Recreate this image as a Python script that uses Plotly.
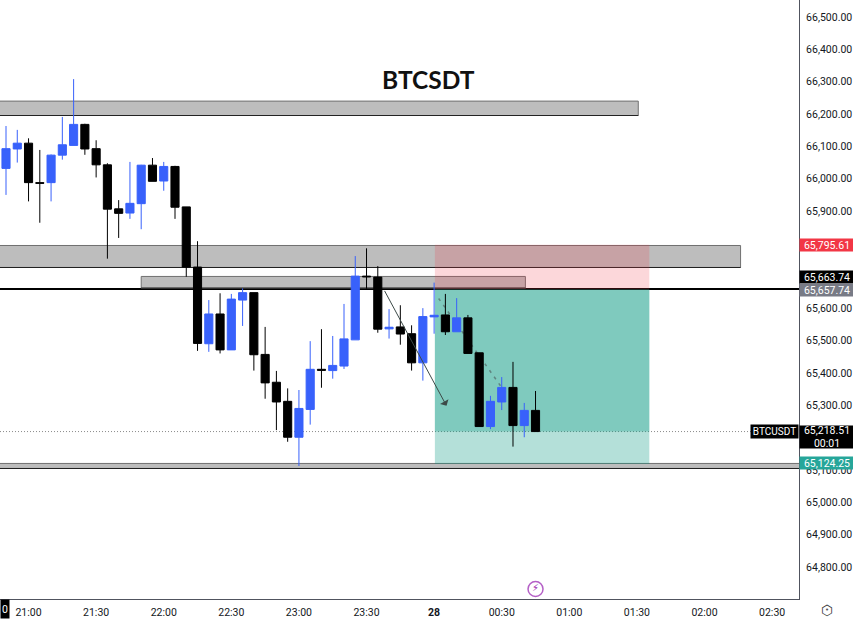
import pandas as pd
import plotly.graph_objects as go

first_bar = "2024-06-27 20:50"
bar_open = [66032, 66092, 66110, 65988, 65988, 66073, 66103, 66168, 66093, 66043, 65907, 65894,
            65923, 66042, 65993, 66038, 65913, 65727, 65490, 65582, 65471, 65625, 65648, 65457,
            65371, 65312, 65201, 65287, 65411, 65407, 65421, 65502, 65699, 65696, 65536, 65542,
            65521, 65431, 65573, 65579, 65527, 65570, 65462, 65234, 65310, 65355, 65237, 65284]
bar_high = [66163, 66151, 66125, 66089, 66075, 66191, 66308, 66170, 66119, 66048, 65934, 66052,
            66043, 66064, 66052, 66040, 65913, 65807, 65625, 65646, 65644, 65661, 65648, 65542,
            65406, 65352, 65347, 65498, 65535, 65514, 65613, 65761, 65785, 65730, 65597, 65609,
            65547, 65600, 65679, 65644, 65631, 65579, 65462, 65329, 65387, 65434, 65307, 65344]
bar_low = [65950, 66050, 65930, 65864, 65930, 66059, 66103, 66074, 66004, 65753, 65817, 65876,
           65844, 65992, 65963, 65876, 65697, 65468, 65465, 65460, 65471, 65545, 65407, 65320,
           65223, 65187, 65112, 65240, 65354, 65382, 65412, 65502, 65660, 65524, 65506, 65487,
           65407, 65376, 65521, 65517, 65527, 65460, 65234, 65226, 65285, 65172, 65201, 65218]
bar_close = [66093, 66110, 65988, 65986, 66073, 66105, 66168, 66092, 66043, 65906, 65893, 65924,
             66042, 65992, 66038, 65912, 65727, 65491, 65582, 65471, 65628, 65648, 65456, 65369,
             65310, 65201, 65290, 65411, 65408, 65423, 65505, 65699, 65697, 65535, 65541, 65520,
             65431, 65574, 65578, 65527, 65570, 65460, 65234, 65312, 65355, 65237, 65284, 65218.51]

y_ticks = [64800, 64900, 65000, 65100, 65200, 65300, 65400, 65500, 65600, 65700, 65800,
           65900, 66000, 66100, 66200, 66300, 66400, 66500]
x_ticks = ["2024-06-27 21:00", "2024-06-27 21:30", "2024-06-27 22:00", "2024-06-27 22:30",
           "2024-06-27 23:00", "2024-06-27 23:30", "2024-06-28 00:00", "2024-06-28 00:30",
           "2024-06-28 01:00", "2024-06-28 01:30", "2024-06-28 02:00", "2024-06-28 02:30"]
x_labels = ["21:00", "21:30", "22:00", "22:30", "23:00", "23:30", "<b>28</b>", "00:30",
            "01:00", "01:30", "02:00", "02:30"]

# start, end, top price, bottom price
zones = [("2024-06-27 20:30", "2024-06-28 01:30:36", 66240, 66195.5),
         ("2024-06-27 20:30", "2024-06-28 02:16", 65793.7, 65725.7),
         ("2024-06-27 21:50", "2024-06-28 00:40:30", 65698, 65662),
         ("2024-06-27 20:30", "2024-06-28 03:00", 65120, 65104.4)]

entry_price = 65657.74
stop_price = 65795.61
target_price = 65124.25
target_box_bottom = 65118
last_price = 65218.51
black_level = 65663.74
black_line_y = 65659
box_start = "2024-06-28 00:00:20"
box_end = "2024-06-28 01:35:30"

font = "Roboto"
blue = "#3861fb"

times = pd.date_range(first_bar, periods=len(bar_open), freq="5min")

fig = go.Figure()
fig.add_trace(go.Candlestick(x=times, open=bar_open, high=bar_high, low=bar_low, close=bar_close,
                             increasing=dict(line=dict(color=blue, width=1), fillcolor=blue),
                             decreasing=dict(line=dict(color="#000000", width=1), fillcolor="#000000"),
                             showlegend=False))

# lightning icon above the time axis
fig.add_trace(go.Scatter(x=["2024-06-28 00:45"], y=[64732], mode="markers+text", text=["⚡\ufe0e"],
                         textposition="middle center",
                         textfont=dict(color="#9c27b0", size=10, family="DejaVu Sans"),
                         marker=dict(size=15, color="white", line=dict(color="#b45fc6", width=1.5)),
                         showlegend=False))

for start, end, top, bottom in zones:
    fig.add_shape(type="rect", x0=start, x1=end, y0=bottom, y1=top, layer="below",
                  fillcolor="#bdbdbd", line=dict(color="#707070", width=1))
    fig.add_shape(type="line", x0=start, x1=end, y0=bottom, y1=bottom, layer="below",
                  line=dict(color="#222222", width=1))

# long/short position box
fig.add_shape(type="rect", x0=box_start, x1=box_end, y0=entry_price, y1=stop_price, layer="below",
              fillcolor="rgba(242,54,69,0.2)", line_width=0)
fig.add_shape(type="rect", x0=box_start, x1=box_end, y0=target_box_bottom, y1=entry_price, layer="below",
              fillcolor="rgba(8,153,129,0.3)", line_width=0)
fig.add_shape(type="rect", x0=box_start, x1=box_end, y0=last_price, y1=entry_price, layer="below",
              fillcolor="rgba(8,153,129,0.3)", line_width=0)

fig.add_shape(type="line", xref="paper", x0=0, x1=1, y0=black_line_y, y1=black_line_y, layer="below",
              line=dict(color="#000000", width=2))
fig.add_shape(type="line", xref="paper", x0=0, x1=0.94, y0=last_price, y1=last_price, layer="below",
              line=dict(color="#8a8a8a", width=1, dash="1px,2px"))
fig.add_shape(type="line", x0="2024-06-28 00:02", x1="2024-06-28 00:32", y0=65630, y1=65335, layer="below",
              line=dict(color="#5f8580", width=1.5, dash="3px,5px"))

# solid arrow
fig.add_annotation(x="2024-06-28 00:05:30", y=65298, ax="2024-06-27 23:37:40", ay=65658,
                   xref="x", yref="y", axref="x", ayref="y", text="", showarrow=True,
                   arrowhead=1, arrowsize=1.6, arrowwidth=1, arrowcolor="#3c4a48")

fig.add_annotation(xref="paper", yref="paper", x=428 / 799, y=1 - 79 / 599, yanchor="middle",
                   xanchor="center", text="<b>BTCSDT</b>",
                   showarrow=False, font=dict(family="Lato", size=24.5, color="#111111"))


def price_label(text, price, bg, shift=0, height=12):
    fig.add_annotation(xref="paper", x=1, xanchor="left", y=price, yref="y", yshift=shift,
                       text=text, showarrow=False, bgcolor=bg, width=54, height=height, borderpad=0,
                       align="center", font=dict(family=font, size=10.5, color="white"))


price_label("65,795.61", stop_price, "#f23645", 0)
price_label("65,663.74", black_level, "#000000", 11)
price_label("65,657.74", entry_price, "#787b86", -1)
price_label("65,218.51<br>00:01", last_price, "#000000", -5.5, 22)
price_label("65,124.25", target_price, "#26a69a", -1)

fig.add_annotation(xref="paper", x=1, xanchor="right", y=last_price, yref="y", text="BTCUSDT",
                   showarrow=False, bgcolor="#000000", width=47, height=13, borderpad=0,
                   font=dict(family=font, size=10, color="white"))
fig.add_annotation(xref="paper", yref="paper", x=0, xanchor="left", y=0, yanchor="top", text="0",
                   showarrow=False, bgcolor="#000000", width=8, height=18, borderpad=0,
                   font=dict(family=font, size=10.5, color="white"))

# settings icon in the corner
fig.add_annotation(xref="paper", yref="paper", x=827 / 799, xanchor="center", y=-11 / 599, yanchor="middle",
                   text="⬡", showarrow=False, font=dict(family="DejaVu Sans", size=14, color="#333333"))
fig.add_annotation(xref="paper", yref="paper", x=827 / 799, xanchor="center", y=-11 / 599, yanchor="middle",
                   text="•", showarrow=False, font=dict(family="DejaVu Sans", size=7, color="#555555"))

fig.update_layout(
    width=853, height=619, margin=dict(l=0, r=54, t=0, b=20),
    paper_bgcolor="white", plot_bgcolor="white", boxgap=0.28, boxgroupgap=0,
    hovermode=False,
    font=dict(family=font, size=10.5, color="#131722"),
    xaxis=dict(type="date", range=["2024-06-27 20:47:20", "2024-06-28 02:41:56"],
               rangeslider=dict(visible=False), showgrid=False, zeroline=False,
               showline=True, linecolor="#50535e", linewidth=1,
               tickmode="array", tickvals=x_ticks, ticktext=x_labels, ticks="outside",
               ticklen=3, tickcolor="white"),
    yaxis=dict(side="right", range=[64701, 66552.5], showgrid=False, zeroline=False,
               showline=True, linecolor="#50535e", linewidth=1,
               tickmode="array", tickvals=y_ticks, tickformat=",.2f", ticks="outside",
               ticklen=4, tickcolor="white"),
)

fig.write_html("out.html", config=dict(displayModeBar=False),
               post_script="document.body.style.margin='0';document.body.style.overflow='hidden';")
